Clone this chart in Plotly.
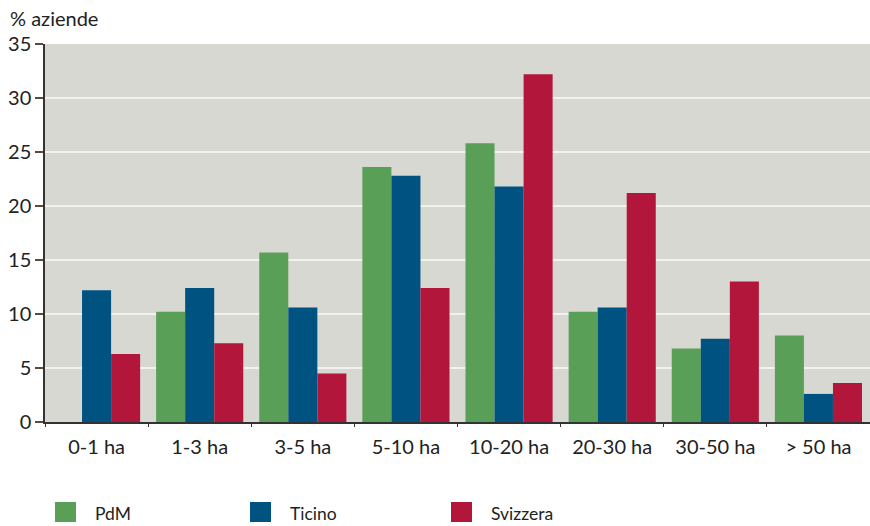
import plotly.graph_objects as go

categories = ["0-1 ha", "1-3 ha", "3-5 ha", "5-10 ha", "10-20 ha", "20-30 ha", "30-50 ha", "> 50 ha"]
pdm = [0.0, 10.2, 15.7, 23.6, 25.8, 10.2, 6.8, 8.0]
ticino = [12.2, 12.4, 10.6, 22.8, 21.8, 10.6, 7.7, 2.6]
svizzera = [6.3, 7.3, 4.5, 12.4, 32.2, 21.2, 13.0, 3.6]

series_names = ["PdM", "Ticino", "Svizzera"]
series_values = [pdm, ticino, svizzera]
colors = ["#5a9f58", "#005280", "#b3163b"]

FONT = "Lato"

fig = go.Figure()
for name, vals, col in zip(series_names, series_values, colors):
    fig.add_trace(go.Bar(x=categories, y=vals, name=name, marker=dict(color=col, line=dict(width=0)),
                         showlegend=False))

# manual legend (large square swatches)
legend_x = [55, 250, 451]
for name, col, lx in zip(series_names, colors, legend_x):
    fig.add_shape(type="rect", xref="paper", yref="paper",
                  x0=(lx - 45) / 825, x1=(lx + 21 - 45) / 825,
                  y0=(422 - 522) / 378, y1=(422 - 502) / 378,
                  fillcolor=col, line=dict(width=0))
    fig.add_annotation(text=name, xref="paper", yref="paper",
                       x=(lx + 38 - 45) / 825, y=(422 - 513) / 378,
                       xanchor="left", yanchor="middle", showarrow=False,
                       font=dict(family=FONT, size=17.5, color="#222222"))

fig.add_annotation(text="% aziende", xref="paper", yref="paper",
                   x=-37 / 825, y=(422 - 18) / 378, xanchor="left", yanchor="middle",
                   showarrow=False, font=dict(family=FONT, size=20, color="#222222"))

fig.update_layout(
    width=870, height=526,
    margin=dict(l=45, r=0, t=44, b=104),
    paper_bgcolor="white",
    plot_bgcolor="#d8d8d3",
    barmode="group",
    bargap=0.155,
    bargroupgap=0,
    font=dict(family=FONT, size=18, color="#222222"),
)
fig.update_yaxes(range=[0, 35], dtick=5, showgrid=True, gridcolor="#f2f2ef", gridwidth=1.5,
                 showline=True, linecolor="#333333", linewidth=1.5,
                 ticks="outside", ticklen=8, tickcolor="#5a4a3a", tickwidth=1.5,
                 tickfont=dict(family=FONT, size=20, color="#222222"), zeroline=False)
fig.update_xaxes(showline=True, linecolor="#333333", linewidth=1.5,
                 ticks="outside", ticklen=3, tickcolor="#333333", tickson="boundaries",
                 ticklabelstandoff=6,
                 tickfont=dict(family=FONT, size=20, color="#222222"))

fig.write_html("out.html")
